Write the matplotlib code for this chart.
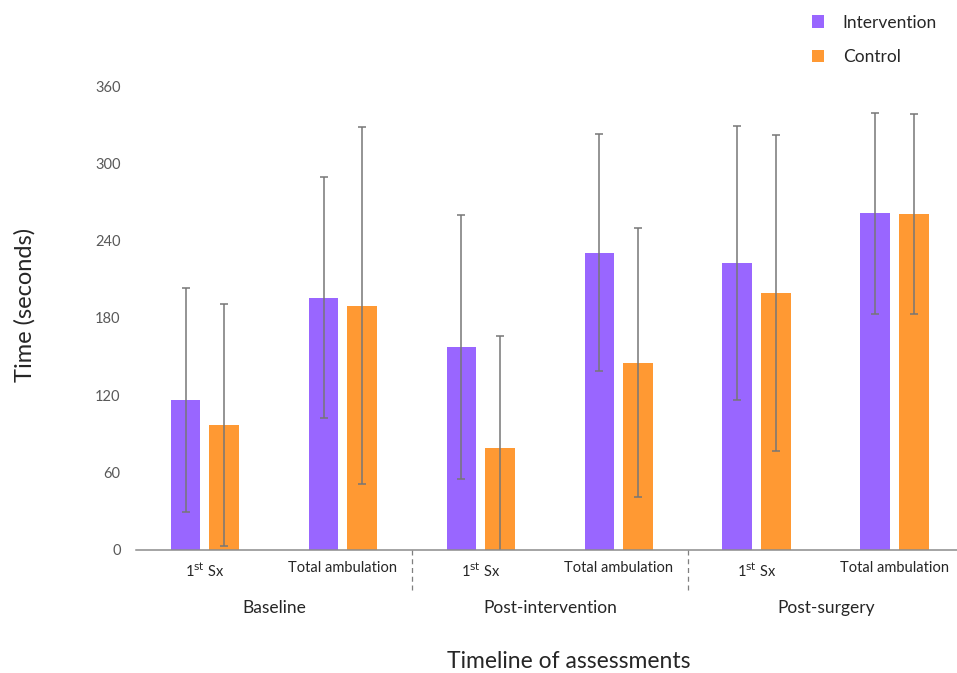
import matplotlib.pyplot as plt
import numpy as np

plt.rcParams['font.family'] = ['Lato', 'DejaVu Sans']

# data
sub_labels = ['1$^{\\mathrm{st}}$ Sx', 'Total ambulation'] * 3
groups = ['Baseline', 'Post-intervention', 'Post-surgery']
intervention = [116.5, 195.8, 157.7, 230.7, 222.4, 261.2]
intervention_sd = [87, 93.7, 102.3, 92.2, 106.4, 78]
control = [96.7, 189.6, 78.9, 145.3, 199.2, 260.4]
control_sd = [94, 138.6, 87.4, 104.3, 122.5, 77.6]

purple = '#9966FF'
orange = '#FF9933'
gray_txt = '#595959'
dark_txt = '#262626'

fig = plt.figure(figsize=(9.57, 6.73), dpi=100)
ax = fig.add_axes([0.1421, 0.1828, 0.8579, 0.6894])

x = np.arange(len(sub_labels))
w = 0.217
off = 0.141
err_kw = dict(ecolor='#767676', elinewidth=1.1, capsize=3, capthick=1.1)
ax.bar(x - off, intervention, w, yerr=intervention_sd, color=purple,
       error_kw=err_kw, label='Intervention')
ax.bar(x + off, control, w, yerr=control_sd, color=orange,
       error_kw=err_kw, label='Control')

ax.set_ylim(0, 360)
ax.set_xlim(-0.5, 5.45)
ax.set_yticks(range(0, 361, 60))
ax.tick_params(axis='y', length=0, pad=11, labelsize=10.5, labelcolor=gray_txt)
ax.set_xticks(x)
ax.set_xticklabels(sub_labels, fontsize=10.5, color=dark_txt)
ax.tick_params(axis='x', length=0, pad=8)
for s in ['top', 'right', 'left']:
    ax.spines[s].set_visible(False)
ax.spines['bottom'].set_color('#8c8c8c')
ax.spines['bottom'].set_linewidth(1.1)

# dashed separators between groups
for sep in [1.5, 3.5]:
    ax.plot([sep, sep], [0, -0.09], transform=ax.get_xaxis_transform(),
            clip_on=False, color='#7f7f7f', lw=0.9, ls=(0, (4, 3)))

for i, g in enumerate(groups):
    ax.text(2 * i + 0.5, -0.125, g, transform=ax.get_xaxis_transform(),
            ha='center', va='center', fontsize=12.5, color=dark_txt)

fig.text(569 / 957, 1 - 662 / 673, 'Timeline of assessments', ha='center',
         va='center', fontsize=16.5, color=dark_txt)
fig.text(25 / 957, 1 - 305 / 673, 'Time (seconds)', rotation=90, ha='center',
         va='center', fontsize=17, color=dark_txt)

fig.legend(loc='upper left', bbox_to_anchor=(796 / 957, 1 + 1 / 673),
           frameon=False, fontsize=12.5, handlelength=0.7, handleheight=0.7,
           handletextpad=1.1, labelspacing=1.05, labelcolor=dark_txt)

fig.savefig('out.png', dpi=100)
